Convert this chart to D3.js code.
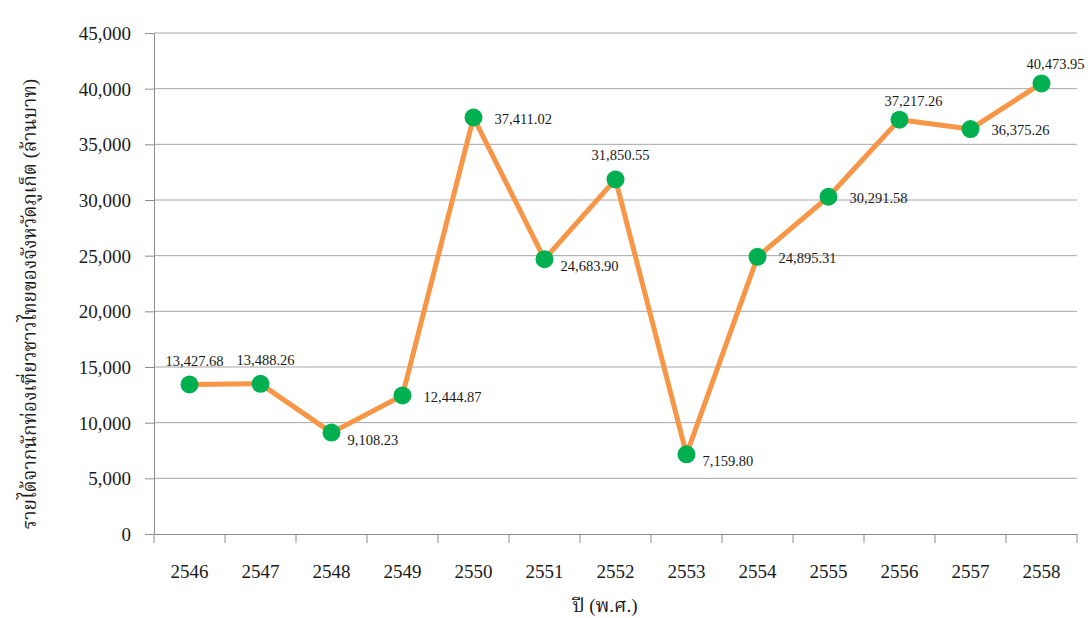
<!DOCTYPE html>
<html>
<head>
<meta charset="utf-8">
<script src="https://cdn.jsdelivr.net/npm/d3@7"></script>
<style>
  body { margin: 0; background: #fff; }
  text { font-family: "Liberation Serif", "Times New Roman", "Noto Serif Thai", "Noto Sans", serif; fill: #1a1a1a; }
</style>
</head>
<body>
<script>
// ปี (พ.ศ.)
var years = ["2546","2547","2548","2549","2550","2551","2552","2553","2554","2555","2556","2557","2558"];
// รายได้ (ล้านบาท)
var income = [13427.68, 13488.26, 9108.23, 12444.87, 37411.02, 24683.90, 31850.55, 7159.80, 24895.31, 30291.58, 37217.26, 36375.26, 40473.95];
var yTicks = [0, 5000, 10000, 15000, 20000, 25000, 30000, 35000, 40000, 45000];
var yTitle = "รายได้จากนักท่องเที่ยวชาวไทยของจังหวัดภูเก็ต (ล้านบาท)";
var xTitle = "ปี (พ.ศ.)";

function drawChart(){
    var width = 1088, height = 618;
    var left = 154, right = 1077, top = 33, bottom = 534;

    var svg = d3.select("body").append("svg")
        .attr("width", width)
        .attr("height", height);

    var xScale = d3.scaleBand().domain(years).range([left, right]);
    var yScale = d3.scaleLinear().domain([0, 45000]).range([bottom, top]);

    // gridlines
    svg.append("g").selectAll("line").data(yTicks.slice(1)).enter()
        .append("line")
        .attr("x1", left).attr("x2", right)
        .attr("y1", function(d){ return yScale(d); })
        .attr("y2", function(d){ return yScale(d); })
        .attr("stroke", "#a6a6a6").attr("stroke-width", 1);

    // y axis
    var yAxis = d3.axisLeft(yScale).tickValues(yTicks).tickSize(9).tickPadding(14)
        .tickFormat(d3.format(",")).tickSizeOuter(0);
    var yg = svg.append("g").attr("transform", "translate(" + left + ",0)").call(yAxis);
    yg.selectAll("line, path").attr("stroke", "#8c8c8c");
    yg.selectAll("text").attr("font-size", 19).attr("dy", "0.35em");

    // x axis, ticks between categories
    var xAxis = d3.axisBottom(xScale).tickSize(0).tickPadding(31).tickSizeOuter(0);
    var xg = svg.append("g").attr("transform", "translate(0," + bottom + ")").call(xAxis);
    xg.select("path").attr("stroke", "#8c8c8c");
    xg.selectAll("text").attr("font-size", 19);
    var bounds = years.map(function(d){ return xScale(d); }).concat([right]);
    xg.selectAll(".sep").data(bounds).enter().append("line")
        .attr("x1", function(d){ return d; }).attr("x2", function(d){ return d; })
        .attr("y1", 0).attr("y2", 9)
        .attr("stroke", "#8c8c8c");

    var cx = function(d, i){ return xScale(years[i]) + xScale.bandwidth() / 2; };

    // line
    var line = d3.line()
        .x(function(d, i){ return cx(d, i); })
        .y(function(d){ return yScale(d); });
    svg.append("path").datum(income)
        .attr("d", line)
        .attr("fill", "none")
        .attr("stroke", "#f79646")
        .attr("stroke-width", 5)
        .attr("stroke-linejoin", "round");

    // markers
    svg.append("g").selectAll("circle").data(income).enter()
        .append("circle")
        .attr("cx", cx)
        .attr("cy", function(d){ return yScale(d); })
        .attr("r", 9)
        .attr("fill", "#00b050");

    // labels: where each label sits relative to its point
    var place = {"2546":"above","2547":"above","2548":"belowright","2549":"right","2550":"right",
                 "2551":"belowright","2552":"above","2553":"belowright","2554":"right","2555":"right",
                 "2556":"aboveright","2557":"right","2558":"aboveright"};
    var fmt = d3.format(",.2f");
    svg.append("g").selectAll("text").data(income).enter()
        .append("text")
        .attr("font-size", 14.5)
        .attr("x", function(d, i){
            var p = place[years[i]], x = cx(d, i);
            if (p == "above") return x + 5;
            if (p == "aboveright") return x - 15;
            if (p == "belowright") return x + 16;
            return x + 21;
        })
        .attr("y", function(d, i){
            var p = place[years[i]], y = yScale(d);
            if (p == "above") return y - 24;
            if (p == "aboveright") return y - 19;
            if (p == "belowright") return y + 7;
            return y + 1;
        })
        .attr("dy", "0.35em")
        .attr("text-anchor", function(d, i){
            return place[years[i]] == "above" ? "middle" : "start";
        })
        .text(function(d){ return fmt(d); });

    // axis titles
    svg.append("text")
        .attr("transform", "translate(36," + 304 + ") rotate(-90)")
        .attr("text-anchor", "middle")
        .attr("font-size", 19)
        .text(yTitle);
    svg.append("text")
        .attr("x", 605).attr("y", 612)
        .attr("text-anchor", "middle")
        .attr("font-size", 19)
        .text(xTitle);
}
drawChart();
</script>
</body>
</html>
